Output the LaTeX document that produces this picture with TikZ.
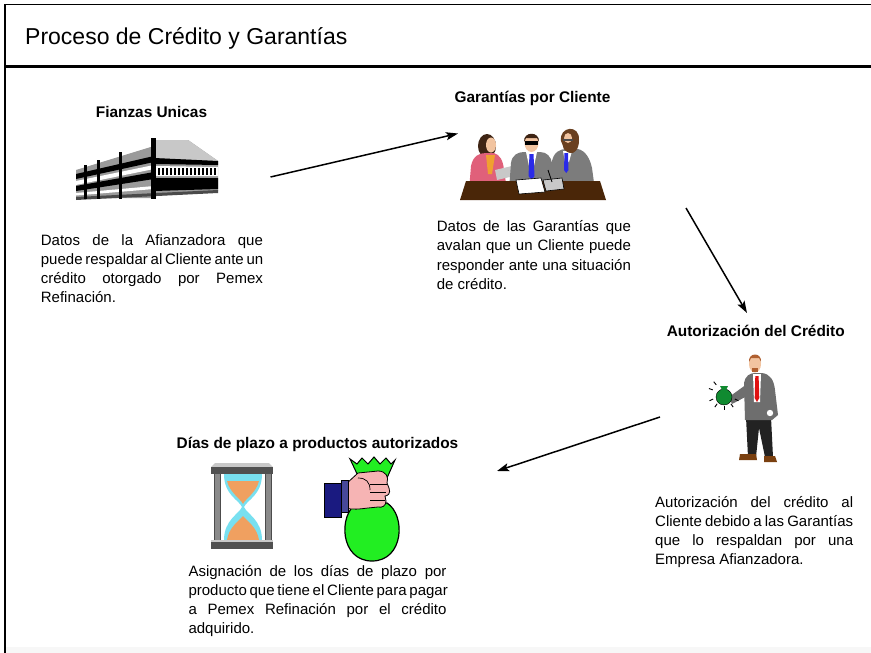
\documentclass[tikz,border=0pt]{standalone}
\usepackage{fontspec}
\setmainfont{Liberation Sans}
\usetikzlibrary{arrows.meta,calc}

% colours of the little pictures
\definecolor{bldgrey}{HTML}{9A9A9A}
\definecolor{bldlight}{HTML}{C8C8C8}
\definecolor{blddark}{HTML}{4A4A4A}
\definecolor{tablebr}{HTML}{4A2608}
\definecolor{skin}{HTML}{F2C4A0}
\definecolor{hairdk}{HTML}{3E2414}
\definecolor{hairbr}{HTML}{6A4020}
\definecolor{pinkjk}{HTML}{E0607A}
\definecolor{blouse}{HTML}{F0A030}
\definecolor{suitgr}{HTML}{7C7C7C}
\definecolor{tieblue}{HTML}{2A2AE8}
\definecolor{suitdk}{HTML}{6E6E6E}
\definecolor{tiered}{HTML}{E01010}
\definecolor{trous}{HTML}{222222}
\definecolor{shoebr}{HTML}{7A4010}
\definecolor{hairor}{HTML}{B06030}
\definecolor{bagdark}{HTML}{108A30}
\definecolor{plategr}{HTML}{505050}
\definecolor{postgr}{HTML}{8A8A8A}
\definecolor{glasscy}{HTML}{78E0F0}
\definecolor{sandor}{HTML}{F0A060}
\definecolor{sleeve}{HTML}{1A1A80}
\definecolor{handpk}{HTML}{F6B4B4}
\definecolor{baggreen}{HTML}{22EE22}

\newcommand{\jrow}[1]{\hbox to \linewidth{#1}}
\newcommand{\lrow}[1]{\hbox to \linewidth{#1\hfil}}

\tikzset{
  frameline/.style={line width=1.8pt, black},
  heading/.style={anchor=base, inner sep=0pt, font=\fontsize{15.4}{18}\selectfont\bfseries},
  para/.style={anchor=base west, inner sep=0pt, font=\fontsize{15}{19.3}\selectfont},
  flow/.style={line width=1.5pt, -{Stealth[length=12pt,width=8pt,inset=2.5pt]}},
  outl/.style={draw=black, line width=0.6pt},
}

\begin{document}
\begin{tikzpicture}[x=1pt,y=-1pt]
\useasboundingbox (0,0) rectangle (871,653);
\fill[white] (0,0) rectangle (871,653);
\fill[black!3] (6,647) rectangle (871,653);

% frame and title bar
\draw[frameline] (5,653) -- (5,4.5) -- (871,4.5);
\draw[line width=3pt] (5,66.5) -- (871,66.5);
\node[anchor=base west, inner sep=0pt, font=\fontsize{23}{27}\selectfont] (title) at (25,45) {Proceso de Crédito y Garantías};

% ---------- headings ----------
\node[heading] (hFianzas) at (151.5,117.3) {Fianzas Unicas};
\node[heading] (hGarant) at (532.5,102.7) {Garantías por Cliente};
\node[heading] (hAutor) at (755.8,336.7) {Autorización del Crédito};
\node[heading] (hDias) at (317.5,448) {Días de plazo a productos autorizados};

% ---------- descriptions ----------
\node[para] (tFianzas) at (40.7,245) {\parbox[t]{222pt}{%
  \jrow{Datos de la Afianzadora que}%
  \lrow{puede respaldar al Cliente ante un}%
  \jrow{crédito otorgado por Pemex}%
  \lrow{Refinación.}}};
\node[para] (tGarant) at (436.7,231.5) {\parbox[t]{194pt}{%
  \jrow{Datos de las Garantías que}%
  \jrow{avalan que un Cliente puede}%
  \jrow{responder ante una situación}%
  \lrow{de crédito.}}};
\node[para] (tAutor) at (655,507) {\parbox[t]{198pt}{%
  \jrow{Autorización del crédito al}%
  \jrow{Cliente debido a las Garantías}%
  \jrow{que lo respaldan por una}%
  \lrow{Empresa Afianzadora.}}};
\node[para] (tDias) at (188.3,576) {\parbox[t]{258pt}{%
  \jrow{Asignación de los días de plazo por}%
  \jrow{producto que tiene el Cliente para pagar}%
  \jrow{a Pemex Refinación por el crédito}%
  \lrow{adquirido.}}};

% ---------- flow arrows ----------
\coordinate (a1s) at (270.5,177);
\coordinate (a1e) at (458,133.5);
\coordinate (a2s) at (686,208);
\coordinate (a2e) at (747,313);
\coordinate (a3s) at (660,417);
\coordinate (a3e) at (497,471);
\draw[flow] (a1s) -- (a1e);
\draw[flow] (a2s) -- (a2e);
\draw[flow] (a3s) -- (a3e);

% ---------- office building ----------
\fill[bldgrey] (76,170) -- (154,146) -- (154,198) -- (76,198) -- cycle;
\fill[black] (76,174) -- (154,156) -- (154,162) -- (76,179) -- cycle;
\fill[white] (76,181) -- (154,165) -- (154,169) -- (76,185) -- cycle;
\fill[black] (76,186) -- (154,172) -- (154,179) -- (76,191) -- cycle;
\fill[white] (76,193) -- (154,186) -- (154,189) -- (76,195.5) -- cycle;
\fill[bldgrey] (154,140) -- (188,140) -- (218,161) -- (218,191) -- (154,196) -- cycle;
\fill[bldlight] (154,140) -- (188,140) -- (218,161) -- (154,158) -- cycle;
\fill[black] (154,158) -- (218,161) -- (218,165) -- (154,164) -- cycle;
\fill[white] (154,166) -- (218,167) -- (218,176) -- (154,176) -- cycle;
\foreach \xx in {158,162,...,216} \fill[black] (\xx,168) rectangle (\xx+1.6,175);
\fill[black] (154,178) -- (218,178) -- (218,189) -- (154,191) -- cycle;
\fill[blddark] (76,197) -- (218,190) -- (218,193) -- (76,200) -- cycle;
\fill[black] (84,165) rectangle (87,199);
\fill[black] (97,160) rectangle (100,199);
\fill[black] (118.5,151.5) rectangle (122,199);
\fill[black] (150.5,138) rectangle (156,199);

% ---------- meeting at the table ----------
% woman
\fill[hairdk] (487,146) ellipse (9 and 12);
\fill[pinkjk] (469,190) -- (471,166) .. controls (473,156) and (479,153) .. (486,153) -- (494,153) .. controls (500,155) and (503,160) .. (504,170) -- (507,190) -- cycle;
\fill[blouse] (486,155) -- (495,155) -- (492,174) -- (488,174) -- cycle;
\fill[skin] (491,145) ellipse (5 and 7.5);
\fill[bldlight] (495,170) -- (512,166) -- (514,176) -- (497,180) -- cycle;
% man in the middle
\fill[suitgr] (509,190) -- (511,163) .. controls (512,155) and (518,152) .. (524,152) -- (540,152) .. controls (547,152) and (551,157) .. (552,163) -- (554,190) -- cycle;
\fill[white] (526,152) -- (537,152) -- (534,166) -- (529,166) -- cycle;
\fill[tieblue] (529.5,154) -- (533.5,154) -- (534.5,176) -- (531.5,180) -- (528.5,176) -- cycle;
\fill[skin] (531.5,143) ellipse (7 and 9);
\fill[hairdk] (524,142) .. controls (523,131) and (540,131) .. (539,142) -- (537,138) -- (526,138) -- cycle;
\fill[black] (525,141) rectangle (538,145);
% bearded man on the right
\fill[suitgr] (550,190) -- (552,161) .. controls (554,152) and (560,149) .. (566,149) -- (578,149) .. controls (586,151) and (590,159) .. (592,168) -- (595,190) -- cycle;
\fill[white] (563,151) -- (572,151) -- (569,162) -- (565,162) -- cycle;
\fill[tieblue] (564.5,153) -- (568,153) -- (568.5,170) -- (566.2,173) -- (564,170) -- cycle;
\fill[skin] (569,139) ellipse (7 and 9);
\fill[hairbr] (561,141) .. controls (559,126) and (580,124) .. (579,140) .. controls (579,150) and (574,154) .. (570,153) .. controls (566,152) and (563,149) .. (563,146) -- cycle;
\fill[skin] (568,138) ellipse (4 and 5);
\fill[black!70] (563,139) rectangle (573,141);
% table with papers
\fill[tablebr] (466,181) -- (600,181) -- (606,200) -- (460,200) -- cycle;
\fill[white, outl] (516,180) -- (541,178) -- (545,192) -- (519,194) -- cycle;
\fill[bldlight, outl] (543,180) -- (562,178) -- (564,189) -- (546,191) -- cycle;
\draw[black, line width=0.8pt] (548,170) -- (552,182);

% ---------- man holding the money bag ----------
\fill[trous] (746,417) -- (771,417) -- (773,457) -- (765,457) -- (759,428) -- (756,457) -- (748,457) -- cycle;
\fill[shoebr] (740,454) -- (756,454) -- (757,460) -- (739,460) -- cycle;
\fill[shoebr] (764,456) -- (775,456) -- (777,462) -- (764,462) -- cycle;
\fill[suitdk] (745,420) -- (744,383) .. controls (745,376) and (750,373) .. (755,373) -- (762,373) .. controls (770,374) and (774,380) .. (775,390) -- (778,415) -- (772,420) -- cycle;
\fill[white] (753,374) -- (761,374) -- (760,402) -- (754,402) -- cycle;
\fill[tiered] (755.3,376) -- (758.6,376) -- (759.3,398) -- (757,402) -- (754.7,398) -- cycle;
\fill[suitdk] (747,384) -- (729,397) -- (732,404) -- (749,395) -- cycle;
\fill[white] (770,413) circle (3.2);
\fill[skin] (755,364) ellipse (6 and 8.5);
\fill[hairor] (749,362) .. controls (748,352) and (762,352) .. (761,362) -- (759,358) -- (751,358) -- cycle;
\fill[hairor] (752,368) rectangle (758,372);
\fill[bagdark, draw=black, line width=0.4pt] (724,397) circle (8);
\fill[bagdark] (720,386) -- (728,386) -- (726,390) -- (722,390) -- cycle;
\foreach \ang in {90,125,155,200,230,55,25} {
  \draw[black, line width=0.9pt] ($(724,394)+(\ang:12)$) -- ($(724,394)+(\ang:16)$);
}

% ---------- hourglass ----------
\fill[glasscy] (224,474) -- (262,474) .. controls (262,495) and (247,500) .. (244,507) .. controls (247,514) and (262,520) .. (262,540) -- (224,540) .. controls (224,520) and (239,514) .. (242,507) .. controls (239,500) and (224,495) .. (224,474) -- cycle;
\fill[sandor] (227,481) -- (259,481) .. controls (256,493) and (246,498) .. (243,504) .. controls (240,498) and (230,493) .. (227,481) -- cycle;
\fill[sandor] (227,540) -- (259,540) .. controls (257,527) and (247,521) .. (243,516) .. controls (239,521) and (229,527) .. (227,540) -- cycle;
\fill[postgr, draw=black!70, line width=0.4pt] (214,472) rectangle (220,541);
\fill[postgr, draw=black!70, line width=0.4pt] (265,472) rectangle (271,541);
\fill[bldlight] (215,463) -- (269,463) -- (273,467) -- (211,467) -- cycle;
\fill[plategr] (211,467) rectangle (273,474);
\fill[bldlight] (211,540) rectangle (273,542);
\fill[plategr] (211,542) rectangle (273,549);

% ---------- hand with the green bag ----------
\fill[baggreen, draw=black, line width=1.2pt] (357,503) .. controls (338,515) and (340,561) .. (372,561) .. controls (404,561) and (406,515) .. (387,503) -- cycle;
\fill[baggreen, draw=black, line width=1pt] (350,459) -- (357,464) -- (362,458) -- (368,464) -- (374,457) -- (380,464) -- (386,458) -- (391,464) -- (395,460) -- (387,478) -- (359,478) -- cycle;
\fill[handpk, draw=black, line width=0.8pt] (346,484) -- (358,473) -- (378,471) .. controls (386,471) and (389,477) .. (387,483) -- (389,488) .. controls (391,493) and (388,496) .. (385,496) -- (386,501) .. controls (386,506) and (382,508) .. (378,507) -- (368,508) .. controls (360,509) and (352,510) .. (346,508) -- cycle;
\draw[black, line width=0.7pt] (370,484) -- (387,484);
\draw[black, line width=0.7pt] (370,492) -- (386,492);
\draw[black, line width=0.7pt] (370,500) -- (385,500);
\draw[black, line width=0.7pt] (358,478) .. controls (366,478) and (370,482) .. (370,490);
\fill[sleeve, draw=black, line width=0.6pt] (324,483) rectangle (341,517);
\fill[sleeve!80, draw=black, line width=0.6pt] (341,480) rectangle (348,512);
\end{tikzpicture}
\end{document}
